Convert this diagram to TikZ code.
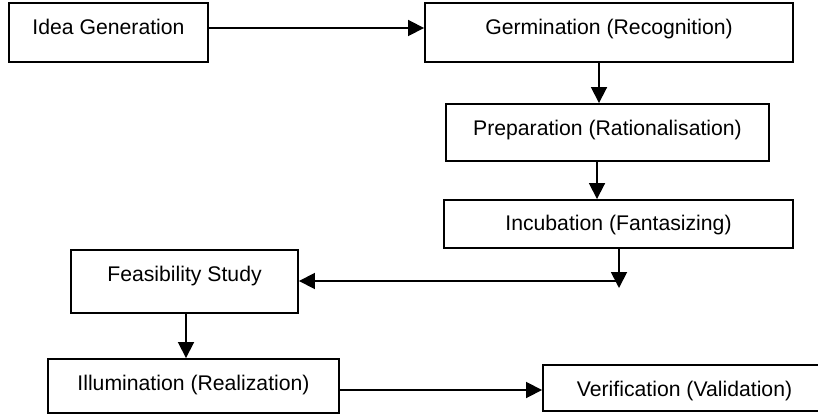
\documentclass[tikz,border=0pt]{standalone}
\usepackage{fontspec}
\setmainfont{Liberation Sans}
\usetikzlibrary{arrows.meta}
\begin{document}
\begin{tikzpicture}[x=1pt,y=-1pt,
  box/.style={draw, line width=1.9pt, inner sep=0pt, text height=15.2pt,
    font=\fontsize{21.2pt}{25pt}\selectfont},
  arr/.style={line width=1.8pt, -{Triangle[length=16pt,width=16pt]}}]
\useasboundingbox (0,0) rectangle (818,414);
\begin{scope}
\clip (0,0) rectangle (818,414);
\node[box, minimum width=199pt, minimum height=59pt, text depth=11.4pt] (idea) at (108.5,32.5) {Idea Generation};
\node[box, minimum width=368pt, minimum height=59pt, text depth=10.6pt] (germ) at (609,32.5) {Germination (Recognition)};
\node[box, minimum width=323pt, minimum height=57pt, text depth=9.4pt] (prep) at (607.5,132.5) {Preparation (Rationalisation)};
\node[box, minimum width=349pt, minimum height=48pt, text depth=3pt] (incub) at (618.5,224) {Incubation (Fantasizing)};
\node[box, minimum width=227pt, minimum height=63pt, text depth=14.6pt] (feas) at (184.5,281.5) {Feasibility Study};
\node[box, minimum width=291pt, minimum height=54pt, text depth=6.4pt] (illum) at (193.5,386) {Illumination (Realization)};
\node[box, minimum width=283pt, minimum height=46pt, text height=17.6pt, text depth=0pt] (verif) at (684.5,388) {Verification (Validation)};
\end{scope}
\coordinate (tip) at (619,288);
\coordinate (turn) at (617,281);
\draw[arr] ([yshift=4.5pt]idea.east) -- ([yshift=4.5pt]germ.west);
\draw[arr] (germ.south -| 599,0) -- (prep.north -| 599,0);
\draw[arr] (prep.south -| 597,0) -- (incub.north -| 597,0);
\draw[arr] (incub.south -| tip) -- (tip);
\draw[arr] (turn) -- (feas.east |- turn);
\draw[arr] (feas.south -| 186,0) -- (illum.north -| 186,0);
\draw[arr] (illum.east |- 0,390) -- (verif.west |- 0,390);
\end{tikzpicture}
\end{document}
